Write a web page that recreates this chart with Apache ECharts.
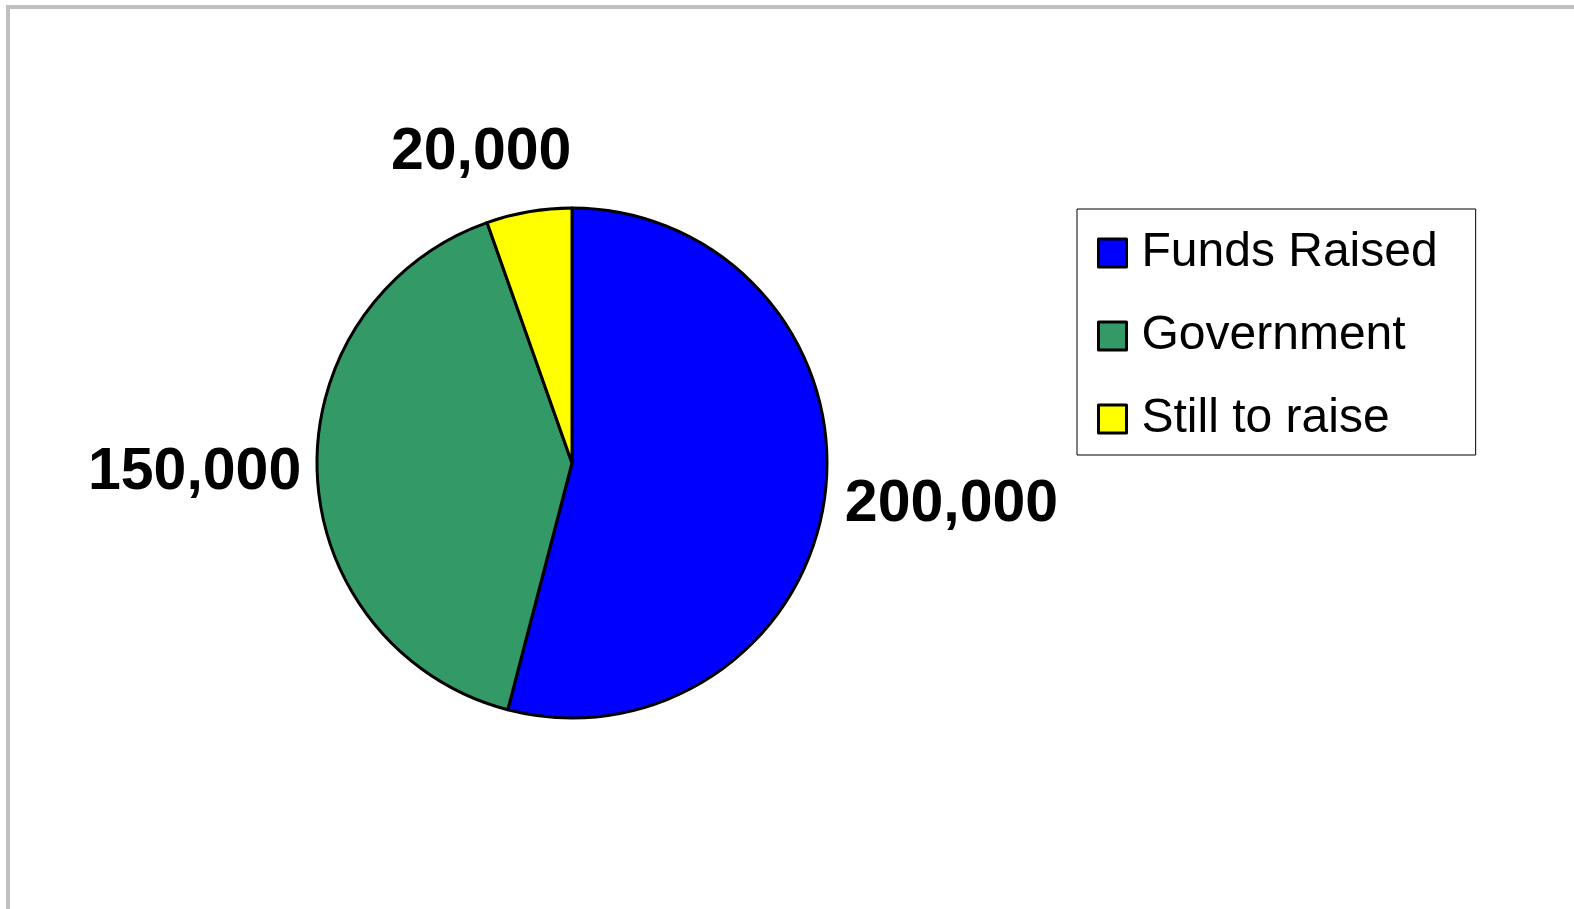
<!DOCTYPE html>
<html>
<head>
<meta charset="utf-8">
<script src="https://cdn.jsdelivr.net/npm/echarts@6/dist/echarts.min.js"></script>
<style>
html,body{margin:0;padding:0;background:#fff;}
#chart{width:1574px;height:909px;}
</style>
</head>
<body>
<div id="chart"></div>
<script>
const categories = ['Funds Raised', 'Government', 'Still to raise'];
const values = [200000, 150000, 20000];
const colors = ['#0000FF', '#339966', '#FFFF00'];
const labelShift = [[0, 7], [4, -2], [50, -44]];

const chart = echarts.init(document.getElementById('chart'), null, {renderer: 'canvas'});
const option = {
  animation: false,
  backgroundColor: '#ffffff',
  graphic: [{
    type: 'rect',
    shape: {x: 8, y: 7, width: 1700, height: 1100},
    style: {fill: 'none', stroke: '#c0c0c0', lineWidth: 4},
    silent: true
  }],
  legend: {
    orient: 'vertical',
    left: 1077,
    top: 209,
    padding: [20, 38, 12, 20],
    borderColor: '#000',
    borderWidth: 1,
    itemWidth: 28,
    itemHeight: 28,
    itemGap: 35,
    icon: 'rect',
    itemStyle: {borderColor: '#000', borderWidth: 3},
    textStyle: {fontFamily: 'Liberation Sans, Arial, sans-serif', fontSize: 48, color: '#000', lineHeight: 31, padding: [0, 0, 0, 10]},
    data: categories
  },
  series: [{
    type: 'pie',
    center: [572, 463],
    radius: 255,
    startAngle: 90,
    clockwise: true,
    itemStyle: {borderColor: '#000', borderWidth: 3},
    label: {
      show: true,
      position: 'outside',
      fontFamily: 'Liberation Sans, Arial, sans-serif',
      fontWeight: 'bold',
      fontSize: 59,
      color: '#000',
      formatter: p => p.value.toLocaleString('en-US')
    },
    labelLine: {show: false, length: 15, length2: 0},
    labelLayout: p => ({dx: labelShift[p.dataIndex][0], dy: labelShift[p.dataIndex][1], moveOverlap: false}),
    emphasis: {disabled: true},
    data: categories.map((c, i) => ({name: c, value: values[i], itemStyle: {color: colors[i]}}))
  }]
};
chart.setOption(option);
</script>
</body>
</html>
